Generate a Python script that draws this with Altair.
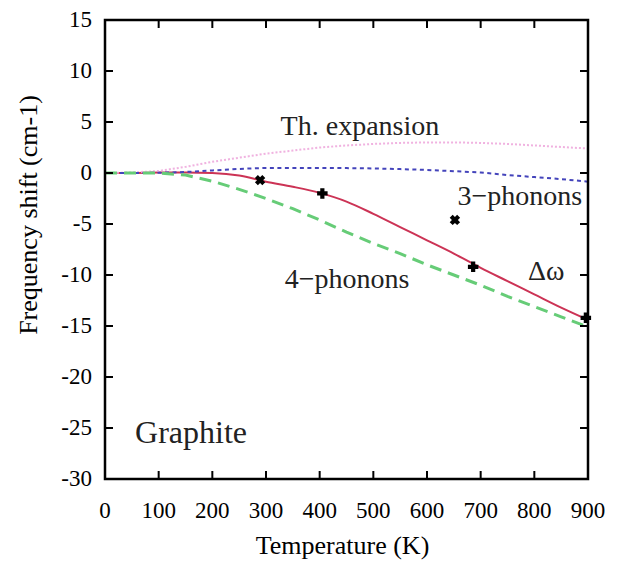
import altair as alt
import pandas as pd

# Temperatures (K) for the curves
temps = [0, 50, 100, 150, 200, 250, 300, 350, 400, 450, 500, 550, 600, 650, 700, 750, 800, 850, 900]
# Total shift (Delta omega)
delta_w = [0, 0.0, 0.05, 0.05, 0.0, -0.25, -0.85, -1.35, -1.95, -2.8, -4.0, -5.3, -6.6, -7.9, -9.3, -10.6, -11.9, -13.2, -14.4]
# 4-phonon contribution
four_ph = [0, 0.0, 0.0, -0.2, -0.8, -1.6, -2.5, -3.5, -4.6, -5.8, -6.9, -7.9, -9.0, -10.0, -11.0, -12.1, -13.1, -14.1, -15.1]
# 3-phonon contribution
three_ph = [0, 0.0, 0.02, 0.1, 0.25, 0.4, 0.5, 0.5, 0.5, 0.48, 0.45, 0.38, 0.3, 0.18, 0.05, -0.2, -0.4, -0.6, -0.85]
# Thermal expansion contribution
th_exp = [0, 0.05, 0.2, 0.6, 1.1, 1.5, 1.9, 2.2, 2.5, 2.7, 2.85, 2.95, 3.0, 3.0, 2.95, 2.85, 2.7, 2.55, 2.4]

# Experimental points
exp_T = [289, 405, 652, 686, 896]
exp_shift = [-0.7, -2.0, -4.6, -9.2, -14.2]
exp_angle = [45, 0, 45, 0, 0]

# Annotations
ann_text = ["Th. expansion", "3\u2212phonons", "4\u2212phonons", "\u0394\u03c9"]
ann_T = [475, 773, 451, 822]
ann_val = [3.7, -3.1, -11.3, -10.5]
name_text = ["Graphite"]
name_T = [56]
name_val = [-26.5]

x_ticks = [0, 100, 200, 300, 400, 500, 600, 700, 800, 900]
y_ticks = [15, 10, 5, 0, -5, -10, -15, -20, -25, -30]
x_range = [0, 900]
y_range = [-30, 15]
x_title = ["Temperature (K)"]
y_title = ["Frequency shift (cm-1)"]

FONT = "Times New Roman"
CW, CH = 619, 571            # whole canvas
L, T0, R, B = 105, 20, 588, 479   # frame of the plot inside the canvas
TICK = 8

# scales cover the whole canvas so that all text stays inside the view
px_per_K = (R - L) / (x_range[1] - x_range[0])
px_per_u = (B - T0) / (y_range[1] - y_range[0])
xs = alt.Scale(domain=[x_range[0] - L / px_per_K, x_range[1] + (CW - R) / px_per_K],
               range=[0, CW], nice=False, zero=False)
ys = alt.Scale(domain=[y_range[0] - (CH - B) / px_per_u, y_range[1] + T0 / px_per_u],
               range=[CH, 0], nice=False, zero=False)

curves = pd.DataFrame({"T": temps, "dw": delta_w, "p4": four_ph, "p3": three_ph, "th": th_exp})
pts = pd.DataFrame({"T": exp_T, "v": exp_shift, "a": exp_angle})
ann = pd.DataFrame({"t": ann_text, "T": ann_T, "v": ann_val})
nm = pd.DataFrame({"t": name_text, "T": name_T, "v": name_val})
xt = pd.DataFrame({"T": x_ticks, "lab": [str(v) for v in x_ticks]})
yt = pd.DataFrame({"v": y_ticks, "lab": [str(v) for v in y_ticks]})
frame = pd.DataFrame({"x0": [x_range[0]], "x1": [x_range[1]], "y0": [y_range[0]], "y1": [y_range[1]]})
xtt = pd.DataFrame({"t": x_title})
ytt = pd.DataFrame({"t": y_title})


def X(field):
    return alt.X(field, type="quantitative", scale=xs, axis=None)


def Y(field):
    return alt.Y(field, type="quantitative", scale=ys, axis=None)


base = alt.Chart(curves)

pink = base.mark_line(color="#eeaadd", strokeWidth=2, strokeDash=[2, 2], opacity=0.9).encode(
    x=X("T"), y=Y("th"))
blue = base.mark_line(color="#4444bb", strokeWidth=2, strokeDash=[4, 3.5]).encode(
    x=X("T"), y=Y("p3"))
green = base.mark_line(color="#66cc77", strokeWidth=3, strokeDash=[12, 7]).encode(
    x=X("T"), y=Y("p4"))
red = base.mark_line(color="#cc3355", strokeWidth=2, interpolate="monotone").encode(
    x=X("T"), y=Y("dw"))
points = alt.Chart(pts).mark_point(shape="cross", filled=True, color="black", size=110, opacity=1).encode(
    x=X("T"), y=Y("v"), angle=alt.Angle("a:Q", scale=None))
labels = alt.Chart(ann).mark_text(font=FONT, fontSize=28, color="#222222", align="center",
                                  baseline="alphabetic").encode(
    x=X("T"), y=Y("v"), text="t:N")
name = alt.Chart(nm).mark_text(font=FONT, fontSize=32, color="#222222", align="left",
                               baseline="alphabetic").encode(
    x=X("T"), y=Y("v"), text="t:N")

# plot frame
box = alt.Chart(frame).mark_rect(fill=None, fillOpacity=0, stroke="black", strokeWidth=2.5).encode(
    x=X("x0"), x2="x1", y=Y("y0"), y2="y1")

# inward tick marks on all four sides
tick_bottom = alt.Chart(xt).mark_rule(color="black", strokeWidth=2).encode(
    x=X("T"), y=alt.value(B - TICK), y2=alt.value(B))
tick_top = alt.Chart(xt).mark_rule(color="black", strokeWidth=2).encode(
    x=X("T"), y=alt.value(T0), y2=alt.value(T0 + TICK))
tick_left = alt.Chart(yt).mark_rule(color="black", strokeWidth=2).encode(
    y=Y("v"), x=alt.value(L), x2=alt.value(L + TICK))
tick_right = alt.Chart(yt).mark_rule(color="black", strokeWidth=2).encode(
    y=Y("v"), x=alt.value(R - TICK), x2=alt.value(R))

# tick labels (placed through the scales)
xlab = alt.Chart(xt).mark_text(font=FONT, fontSize=23, color="black", align="center",
                               baseline="alphabetic").encode(
    x=X("T"), y=alt.value(B + 39), text="lab:N")
ylab = alt.Chart(yt).mark_text(font=FONT, fontSize=23, color="black", align="right",
                               baseline="middle").encode(
    y=Y("v"), x=alt.value(L - 13), text="lab:N")

# axis titles
xtitle = alt.Chart(xtt).mark_text(font=FONT, fontSize=26, color="black", align="center",
                                  baseline="alphabetic").encode(
    x=alt.value((L + R) / 2 - 4), y=alt.value(B + 75), text="t:N")
ytitle = alt.Chart(ytt).mark_text(font=FONT, fontSize=26, color="black", align="center",
                                  baseline="alphabetic", angle=270).encode(
    x=alt.value(37), y=alt.value(215), text="t:N")

chart = alt.layer(red, pink, blue, green, points, labels, name, box,
                  tick_bottom, tick_top, tick_left, tick_right,
                  xlab, ylab, xtitle, ytitle).properties(
    width=CW, height=CH,
    autosize=alt.AutoSizeParams(type="none"),
    padding=0,
    background="white",
).configure_view(strokeWidth=0, stroke=None)

chart.save("out.html", embed_options={"renderer": "svg", "actions": False})
